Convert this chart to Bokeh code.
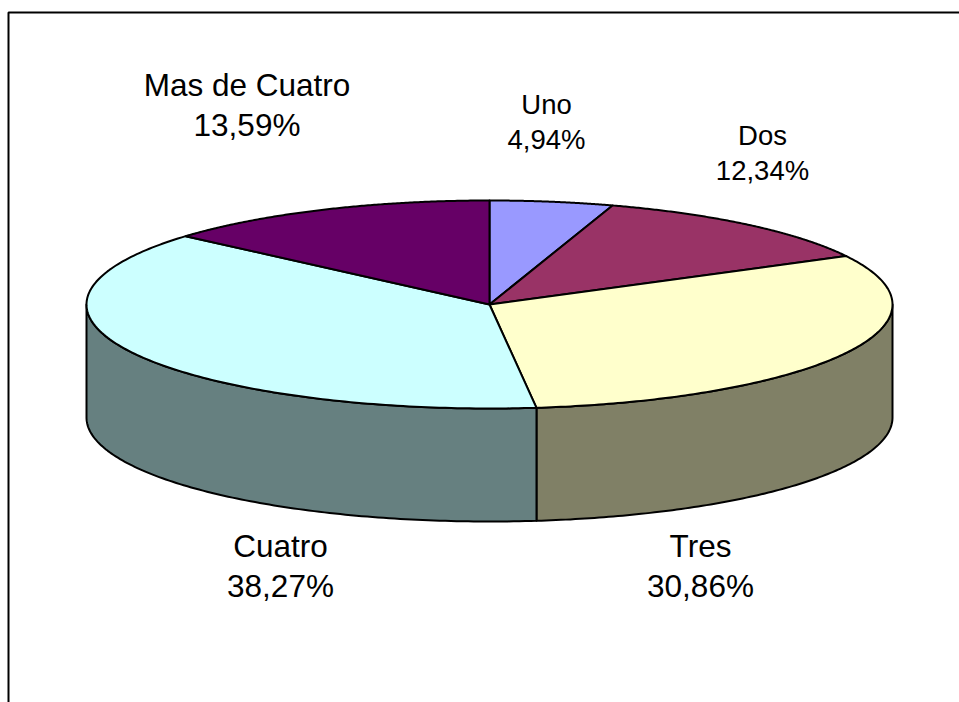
import numpy as np
from bokeh.plotting import figure
from bokeh.embed import file_html
from bokeh.resources import INLINE
from bokeh.core.properties import value

categories = ["Uno", "Dos", "Tres", "Cuatro", "Mas de Cuatro"]
shares = [4.94, 12.34, 30.86, 38.27, 13.59]
share_labels = ["4,94%", "12,34%", "30,86%", "38,27%", "13,59%"]
top_colors = ["#9999FF", "#993366", "#FFFFCC", "#CCFFFF", "#660066"]
side_colors = ["#4C4C80", "#4C1933", "#808066", "#668080", "#330033"]

W, H = 959, 702
cx, cy, rx, ry, depth = 489, 304, 403, 104, 113

p = figure(width=W, height=H, x_range=(0, W), y_range=(H, 0),
           toolbar_location=None, output_backend="svg", min_border=0,
           x_axis_type=None, y_axis_type=None, outline_line_color=None,
           background_fill_color="white", border_fill_color="white")
p.grid.visible = False

def pt(theta):
    return cx + rx * np.sin(theta), cy - ry * np.cos(theta)

cum = np.cumsum([0] + shares) / sum(shares) * 2 * np.pi
start, end = cum[:-1], cum[1:]

# frame: only the top and left edges fall inside the picture
p.line([8, 8, W], [H, 12, 12], line_color="black", line_width=2)

# side walls (visible front part only: theta between pi/2 and 3pi/2)
for i in range(len(shares)):
    a, b = max(start[i], np.pi / 2), min(end[i], 3 * np.pi / 2)
    if a >= b:
        continue
    t = np.linspace(a, b, 120)
    x, y = pt(t)
    xs = np.r_[x, x[::-1]]
    ys = np.r_[y, (y + depth)[::-1]]
    p.patch(xs, ys, fill_color=side_colors[i], line_color="black", line_width=2, line_join="round")

# top slices
for i in range(len(shares)):
    t = np.linspace(start[i], end[i], 160)
    x, y = pt(t)
    p.patch(np.r_[cx, x], np.r_[cy, y], fill_color=top_colors[i], line_color="black",
            line_width=2, line_join="round")

label_x = [546, 762, 700, 280, 246.5]
label_y = [104, 135, 545.5, 545.5, 84]
sizes = ["27.5px", "27.5px", "31.5px", "31.5px", "31.5px"]
for i in range(len(shares)):
    gap = 35 if i < 2 else 40
    for txt, dy in ((categories[i], 0), (share_labels[i], gap)):
        p.text([label_x[i]], [label_y[i] + dy], text=[txt], text_align="center", text_baseline="middle",
               text_font=value("Liberation Sans"), text_font_size=sizes[i], text_color="black")

open("out.html", "w").write(file_html(p, INLINE))
